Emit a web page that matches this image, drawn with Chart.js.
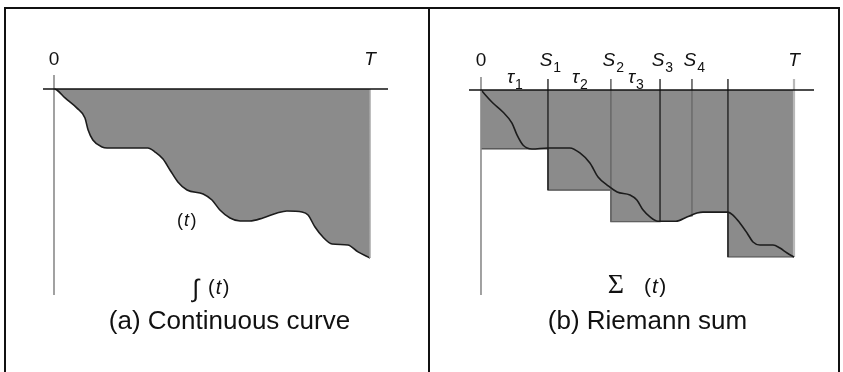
<!DOCTYPE html>
<html>
<head>
<meta charset="utf-8">
<script src="https://cdn.jsdelivr.net/npm/chart.js@4/dist/chart.umd.min.js"></script>
<style>
  html, body { margin: 0; padding: 0; background: #fff; overflow: hidden; }
  #wrap { position: relative; width: 843px; height: 372px; }
  canvas { position: absolute; left: 0; top: 0; }
  .frame { position: absolute; left: 4px; top: 7px; width: 836px; height: 420px; border: 2px solid #111; box-sizing: border-box; }
  .divider { position: absolute; left: 428px; top: 7px; width: 2px; height: 420px; background: #111; }
</style>
</head>
<body>
<div id="wrap">
  <div class="frame"></div>
  <div class="divider"></div>
  <canvas id="panelA" width="843" height="372"></canvas>
  <canvas id="panelB" width="843" height="372"></canvas>
</div>
<script>
// ---- data (time runs 0..T with T = 10; values are measured downward from the axis) ----
const curveTimeA  = [0, 0.09, 0.35, 0.72, 0.98, 1.08, 1.23, 1.52, 1.68, 2.25, 2.97, 3.20, 3.45, 3.67, 3.92, 4.21, 4.72, 5.00, 5.25, 5.57, 5.89, 6.20, 6.61, 7.06, 7.37, 7.85, 8.04, 8.26, 8.51, 8.80, 9.30, 9.62, 10.0];
const curveValueA = [0, 0.06, 0.53, 1.12, 1.72, 2.43, 3.02, 3.43, 3.49, 3.49, 3.49, 3.73, 4.14, 4.79, 5.50, 5.98, 6.21, 6.57, 7.16, 7.63, 7.81, 7.81, 7.63, 7.34, 7.22, 7.28, 7.46, 8.17, 8.76, 9.17, 9.23, 9.64, 10.0];

const curveTimeB  = [0, 0.38, 0.70, 0.99, 1.15, 1.34, 1.63, 2.14, 2.84, 3.16, 3.48, 3.74, 4.03, 4.35, 4.76, 4.98, 5.18, 5.40, 5.65, 6.23, 6.58, 6.90, 7.09, 7.89, 8.05, 8.27, 8.50, 8.69, 8.91, 9.33, 9.55, 9.78, 10.0];
const curveValueB = [0, 0.78, 1.32, 1.98, 2.69, 3.29, 3.53, 3.47, 3.47, 3.77, 4.37, 5.21, 5.69, 6.11, 6.29, 6.59, 7.19, 7.60, 7.86, 7.86, 7.60, 7.37, 7.31, 7.31, 7.49, 7.96, 8.56, 9.10, 9.28, 9.28, 9.46, 9.76, 10.0];

// partition points 0, S1..S4, an unlabeled split, T and the sampled height of each strip
const partitionTime = [0, 2.14, 4.15, 5.72, 6.74, 7.89, 10];
const stripValue    = [3.53, 5.99, 7.89, 7.54, 7.31, 10.0];

// labels along the top edge
const topTicksA  = [0, 10];
const topLabelsA = ['0', 'T'];
const topTicksB  = [partitionTime[0], partitionTime[1], partitionTime[2], partitionTime[3], partitionTime[4], partitionTime[6]];
const topLabelsB = ['0', 'S1', 'S2', 'S3', 'S4', 'T'];
const intervalLabels = ['τ1', 'τ2', 'τ3'];

// ---- styles ----
const SANS = '"Liberation Sans", Arial, Helvetica, sans-serif';
const SERIF = '"Liberation Serif", "Times New Roman", serif';
const FILL = 'rgb(139,139,139)';
const CURVE = '#1c1c1c';
const boundaryColors = ['#8a8a8a', '#1a1a1a', '#6a6a6a', '#1a1a1a', '#707070', '#1a1a1a', '#b8b8b8'];
const boundaryWidths = [1.6, 1.3, 1.6, 1.3, 1.8, 1.3, 2.2];
const boundaryTop = -0.66;

function pts(xs, ys) { return xs.map((x, i) => ({ x: x, y: ys[i] })); }

// draw a label such as "S1" / "τ2" with the trailing digit as a subscript
function drawLabel(ctx, label, cx, baseline, size, italicMain) {
  const m = label.match(/^(.*?)(\d*)$/);
  let main = m[1], sub = m[2];
  if (main === '') { main = label; sub = ''; }
  const mainFont = (italicMain ? 'italic ' : '') + size + 'px ' + SANS;
  const subFont = Math.round(size * 0.72) + 'px ' + SANS;
  ctx.font = mainFont;
  const wMain = ctx.measureText(main).width;
  const x0 = cx - wMain / 2;
  ctx.textAlign = 'left';
  ctx.textBaseline = 'alphabetic';
  ctx.fillStyle = '#111';
  ctx.fillText(main, x0, baseline);
  if (sub) {
    ctx.font = subFont;
    ctx.fillText(sub, x0 + wMain + 1, baseline + 6);
  }
}

// "(t)" with italic t
function drawParenT(ctx, x, baseline, size) {
  ctx.textAlign = 'left';
  ctx.textBaseline = 'alphabetic';
  ctx.fillStyle = '#111';
  const up = size + 'px ' + SANS, it = 'italic ' + size + 'px ' + SANS;
  ctx.font = up; ctx.fillText('(', x, baseline); x += ctx.measureText('(').width + 1;
  ctx.font = it; ctx.fillText('t', x, baseline); x += ctx.measureText('t').width + 1.5;
  ctx.font = up; ctx.fillText(')', x, baseline);
}

function axesPlugin(id) {
  return {
    id: id,
    afterDatasetsDraw(chart) {
      const { ctx, chartArea: a, scales: { x, y } } = chart;
      const x0 = x.getPixelForValue(0), y0 = y.getPixelForValue(0);
      ctx.save();
      ctx.strokeStyle = '#8a8a8a'; ctx.lineWidth = 1.6;
      ctx.beginPath(); ctx.moveTo(x0, a.top); ctx.lineTo(x0, a.bottom); ctx.stroke();
      ctx.strokeStyle = '#111'; ctx.lineWidth = 1.5;
      ctx.beginPath(); ctx.moveTo(a.left, y0); ctx.lineTo(a.right, y0); ctx.stroke();
      ctx.restore();
    }
  };
}

const baseOptions = (xr, yr, pad) => ({
  responsive: false,
  animation: false,
  devicePixelRatio: 1,
  layout: { padding: pad },
  plugins: { legend: { display: false }, tooltip: { enabled: false } },
  elements: { point: { radius: 0 } },
  scales: {
    x: { type: 'linear', display: false, min: xr[0], max: xr[1] },
    y: { type: 'linear', display: false, reverse: true, min: yr[0], max: yr[1] }
  }
});

// ---- (a) continuous curve ----
new Chart(document.getElementById('panelA'), {
  type: 'line',
  data: {
    datasets: [
      {
        data: pts(curveTimeA, curveValueA),
        borderColor: CURVE, borderWidth: 1.6,
        backgroundColor: FILL, fill: 'origin',
        cubicInterpolationMode: 'monotone', order: 1
      },
      {
        data: [{ x: 10, y: 0 }, { x: 10, y: curveValueA[curveValueA.length - 1] }],
        borderColor: '#a8a8a8', borderWidth: 1.5, fill: false, order: 0
      }
    ]
  },
  options: baseOptions([-0.348, 10.570], [-0.828, 12.19], { left: 43, right: 455, top: 75, bottom: 77 }),
  plugins: [axesPlugin('axesA'), {
    id: 'textA',
    afterDraw(chart) {
      const { ctx, scales: { x } } = chart;
      ctx.save();
      topTicksA.forEach((t, i) => drawLabel(ctx, topLabelsA[i], x.getPixelForValue(t), 65, 19, topLabelsA[i] !== '0'));
      drawParenT(ctx, 177, 226, 18);
      ctx.fillStyle = '#111';
      ctx.font = '25px ' + SANS; ctx.textAlign = 'center';
      ctx.fillText('∫', 196, 297);
      drawParenT(ctx, 208, 294, 20);
      ctx.font = '26px ' + SANS; ctx.textAlign = 'center';
      ctx.fillText('(a) Continuous curve', 229.5, 329);
      ctx.restore();
    }
  }]
});

// ---- (b) Riemann sum ----
const stripPoints = partitionTime.map((t, i) => ({ x: t, y: stripValue[Math.min(i, stripValue.length - 1)] }));
const boundaryDatasets = partitionTime.slice(1).map((t, k) => {
  const i = k + 1;
  const depth = Math.max(stripValue[i - 1], i < stripValue.length ? stripValue[i] : 0);
  return {
    data: [{ x: t, y: boundaryTop }, { x: t, y: depth }],
    borderColor: boundaryColors[i], borderWidth: boundaryWidths[i],
    fill: false, order: 2
  };
});

new Chart(document.getElementById('panelB'), {
  type: 'line',
  data: {
    datasets: [
      {
        data: pts(curveTimeB, curveValueB),
        borderColor: CURVE, borderWidth: 1.6, fill: false,
        cubicInterpolationMode: 'monotone', order: 1
      },
      ...boundaryDatasets,
      {
        data: pts(curveTimeB, curveValueB),
        borderWidth: 0, borderColor: 'rgba(0,0,0,0)',
        backgroundColor: FILL, fill: 'origin',
        cubicInterpolationMode: 'monotone', order: 3
      },
      {
        data: stripPoints,
        stepped: 'before',
        borderColor: '#4a4a4a', borderWidth: 1.2,
        backgroundColor: FILL, fill: 'origin', order: 4
      }
    ]
  },
  options: baseOptions([-0.383, 10.639], [-0.778, 12.275], { left: 469, right: 29, top: 77, bottom: 77 }),
  plugins: [axesPlugin('axesB'), {
    id: 'textB',
    afterDraw(chart) {
      const { ctx, scales: { x } } = chart;
      ctx.save();
      topTicksB.forEach((t, i) => {
        const lab = topLabelsB[i];
        const px = x.getPixelForValue(t);
        drawLabel(ctx, lab, lab.length > 1 ? px - 2 : px, 66, 19, lab !== '0');
      });
      intervalLabels.forEach((lab, i) => {
        const mid = (x.getPixelForValue(partitionTime[i]) + x.getPixelForValue(partitionTime[i + 1])) / 2;
        drawLabel(ctx, lab, mid - 4, 83, 19, true);
      });
      ctx.fillStyle = '#111';
      ctx.font = '28px ' + SERIF; ctx.textAlign = 'center';
      ctx.fillText('Σ', 616, 293);
      drawParenT(ctx, 644, 293, 21);
      ctx.font = '26px ' + SANS; ctx.textAlign = 'center';
      ctx.fillText('(b) Riemann sum', 647.5, 329);
      ctx.restore();
    }
  }]
});
</script>
</body>
</html>
